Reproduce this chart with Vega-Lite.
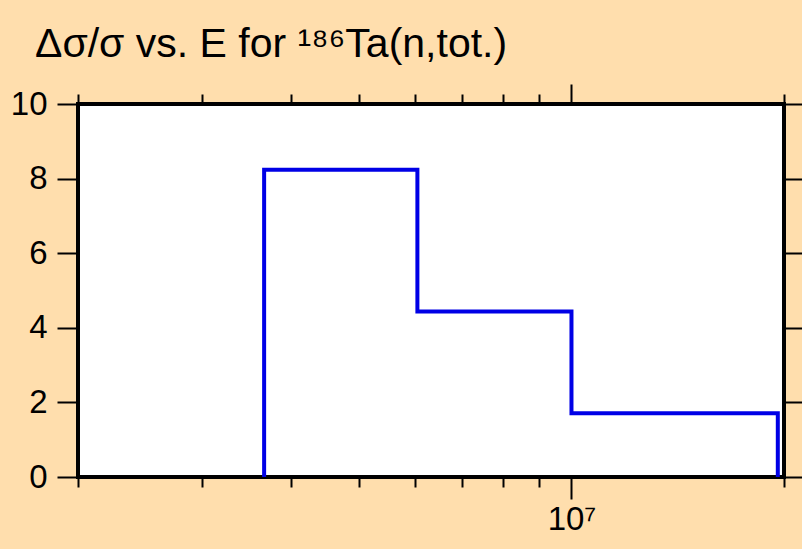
{
  "$schema": "https://vega.github.io/schema/vega-lite/v6.json",
  "autosize": "none",
  "width": 706,
  "height": 373,
  "padding": {"left": 78, "top": 104, "right": 18, "bottom": 72},
  "background": "#FFDEAD",
  "config": {
    "font": "Liberation Sans",
    "view": {"stroke": "black", "strokeWidth": 4, "fill": "white"},
    "axis": {"domain": false, "grid": false, "tickColor": "black", "tickWidth": 2, "labelColor": "black", "labelFont": "Liberation Sans", "labelFontSize": 30, "title": null}
  },
  "title": {
    "text": "Δσ/σ vs. E for ¹⁸⁶Ta(n,tot.)",
    "anchor": "start",
    "frame": "group",
    "dx": -43,
    "dy": 37,
    "fontSize": 41,
    "fontWeight": "normal",
    "font": "Liberation Sans",
    "color": "black",
    "baseline": "alphabetic",
    "offset": 22
  },
  "data": {
    "values": [
      {"i": 1, "E": 3670000, "s": 0},
      {"i": 2, "E": 3670000, "s": 8.24},
      {"i": 3, "E": 6050000, "s": 8.24},
      {"i": 4, "E": 6050000, "s": 4.44},
      {"i": 5, "E": 10000000, "s": 4.44},
      {"i": 6, "E": 10000000, "s": 1.71},
      {"i": 7, "E": 19600000, "s": 1.71},
      {"i": 8, "E": 19600000, "s": 0}
    ]
  },
  "resolve": {"axis": {"x": "independent", "y": "independent"}},
  "layer": [
    {
      "mark": {"type": "line", "color": "#0000E6", "strokeWidth": 4, "clip": true},
      "encoding": {
        "order": {"field": "i", "type": "quantitative"},
        "x": {"field": "E", "type": "quantitative",
          "scale": {"type": "log", "domain": [2000000, 20000000], "nice": false},
          "axis": {"orient": "bottom", "values": [2000000, 3000000, 4000000, 5000000, 6000000, 7000000, 8000000, 9000000, 20000000], "tickSize": 10, "labels": false}},
        "y": {"field": "s", "type": "quantitative",
          "scale": {"domain": [0, 10], "nice": false, "zero": true},
          "axis": {"orient": "left", "values": [0, 2, 4, 6, 8, 10], "tickSize": 21, "labelPadding": 10, "labelFontSize": 33}}
      }
    },
    {
      "mark": {"type": "line", "strokeOpacity": 0},
      "encoding": {
        "order": {"field": "i", "type": "quantitative"},
        "x": {"field": "E", "type": "quantitative",
          "axis": {"orient": "bottom", "values": [10000000], "tickSize": 22, "labelExpr": "'10⁷'", "labelPadding": 4, "labelFontSize": 33}},
        "y": {"field": "s", "type": "quantitative",
          "axis": {"orient": "right", "values": [0, 2, 4, 6, 8, 10], "tickSize": 20, "labels": false}}
      }
    },
    {
      "mark": {"type": "line", "strokeOpacity": 0},
      "encoding": {
        "order": {"field": "i", "type": "quantitative"},
        "x": {"field": "E", "type": "quantitative",
          "axis": {"orient": "top", "values": [2000000, 3000000, 4000000, 5000000, 6000000, 7000000, 8000000, 9000000, 20000000], "tickSize": 10, "labels": false}},
        "y": {"field": "s", "type": "quantitative", "axis": null}
      }
    },
    {
      "mark": {"type": "line", "strokeOpacity": 0},
      "encoding": {
        "order": {"field": "i", "type": "quantitative"},
        "x": {"field": "E", "type": "quantitative",
          "axis": {"orient": "top", "values": [10000000], "tickSize": 20, "labels": false}},
        "y": {"field": "s", "type": "quantitative", "axis": null}
      }
    }
  ]
}
